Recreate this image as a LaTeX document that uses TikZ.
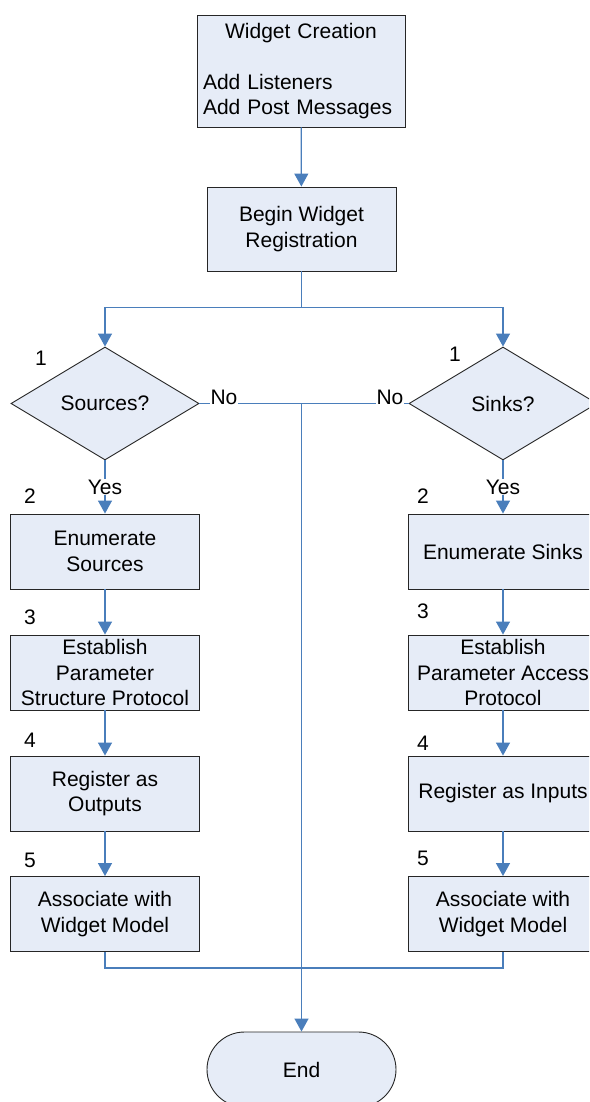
\documentclass[tikz,border=0pt]{standalone}
\usepackage{fontspec}
\setmainfont{Liberation Sans}
\usetikzlibrary{shapes.geometric,arrows.meta}
\definecolor{boxfill}{RGB}{230,236,247}
\definecolor{flowline}{RGB}{74,126,187}
\tikzset{
  txt/.style={font=\fontsize{21}{25.5}\selectfont},
  stepbox/.style={txt, draw=black!85, line width=0.9pt, fill=boxfill,
    minimum width=189pt, minimum height=75pt, inner sep=0pt, align=center},
  decision/.style={txt, diamond, draw=black!85, line width=0.9pt, fill=boxfill,
    minimum width=188pt, minimum height=113pt, inner sep=0pt},
  flow/.style={draw=flowline, line width=1.3pt},
  arr/.style={flow, -{Triangle[width=14pt,length=13pt]}},
  lbl/.style={txt, fill=white, inner sep=1pt},
  num/.style={txt, inner sep=0pt}
}
\begin{document}
\begin{tikzpicture}[x=1pt,y=-1pt]
\useasboundingbox (0,0) rectangle (589,1102);
\clip (0,0) rectangle (589,1102);

% top of the flow
\node[stepbox, minimum width=208pt, minimum height=112pt, text width=196pt, align=left] (create) at (301,71)
  {{\centering Widget Creation\par}\vspace{25.5pt}Add Listeners\par Add Post Messages};
\node[stepbox, minimum height=84pt] (reg) at (301.5,229) {Begin Widget\\Registration};

% decisions
\node[decision] (src) at (105,403.5) {Sources?};
\node[decision] (snk) at (503,403.5) {Sinks?};

% source branch
\node[stepbox] (ls2) at (105,551.5) {Enumerate\\Sources};
\node[stepbox] (ls3) at (105,672.5) {Establish\\Parameter\\Structure Protocol};
\node[stepbox] (ls4) at (105,793.5) {Register as\\Outputs};
\node[stepbox] (ls5) at (105,914) {Associate with\\Widget Model};

% sink branch
\node[stepbox] (rs2) at (503,551.5) {Enumerate Sinks};
\node[stepbox] (rs3) at (503,672.5) {Establish\\Parameter Access\\Protocol};
\node[stepbox] (rs4) at (503,793.5) {Register as Inputs};
\node[stepbox] (rs5) at (503,914) {Associate with\\Widget Model};

% terminator
\node[txt, draw=black!85, line width=0.9pt, fill=boxfill, minimum width=189pt,
  minimum height=75pt, inner sep=0pt, rounded corners=37.5pt] (end) at (301.5,1069.5) {End};

% step numbers
\node[num] (n1l) at (41,358) {1};
\node[num] (n1r) at (455,354) {1};
\node[num] (n2l) at (30,496) {2};
\node[num] (n2r) at (423,496) {2};
\node[num] (n3l) at (30,617) {3};
\node[num] (n3r) at (423,611) {3};
\node[num] (n4l) at (30,740) {4};
\node[num] (n4r) at (423,743) {4};
\node[num] (n5l) at (30,860) {5};
\node[num] (n5r) at (423,858) {5};

% connectors
\draw[arr] (create) -- (reg);
\draw[flow] (reg.south) -- ++(0,36) coordinate (split);
\draw[arr] (split) -| (src.north);
\draw[arr] (split) -| (snk.north);

\coordinate (merge) at (src.east -| end.north);
\draw[flow] (src.east) -- (merge);
\draw[flow] (snk.west) -- (merge);
\draw[arr] (merge) -- (end.north);

\draw[arr] (src.south) -- (ls2.north);
\draw[arr] (snk.south) -- (rs2.north);
\draw[arr] (ls2) -- (ls3);
\draw[arr] (ls3) -- (ls4);
\draw[arr] (ls4) -- (ls5);
\draw[arr] (rs2) -- (rs3);
\draw[arr] (rs3) -- (rs4);
\draw[arr] (rs4) -- (rs5);
\draw[flow] (ls5.south) -- ++(0,16) coordinate (join) -| (rs5.south);

% branch labels
\node[lbl] (noL) at (224,397) {No};
\node[lbl] (noR) at (390,397) {No};
\node[lbl] (yesL) at (105,487) {Yes};
\node[lbl] (yesR) at (503,487) {Yes};
\end{tikzpicture}
\end{document}
